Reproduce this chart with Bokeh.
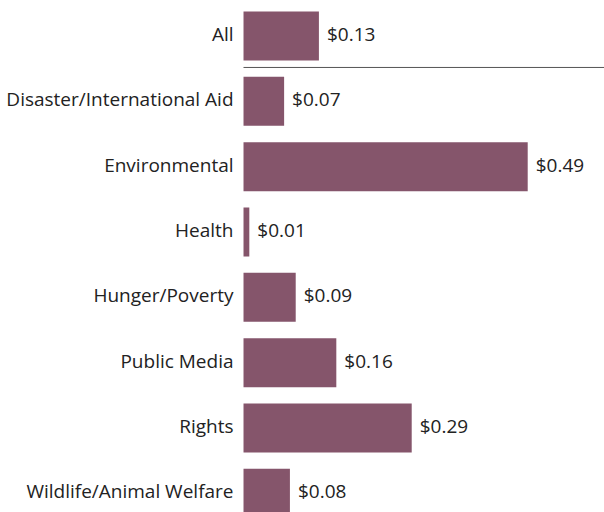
from bokeh.plotting import figure
from bokeh.models import ColumnDataSource, Range1d
from bokeh.core.properties import value
from bokeh.embed import file_html
from bokeh.resources import INLINE

categories = ["All", "Disaster/International Aid", "Environmental", "Health",
              "Hunger/Poverty", "Public Media", "Rights", "Wildlife/Animal Welfare"]
values = [0.13, 0.07, 0.49, 0.01, 0.09, 0.16, 0.29, 0.08]
value_labels = ["$0.13", "$0.07", "$0.49", "$0.01", "$0.09", "$0.16", "$0.29", "$0.08"]

n = len(categories)
ypos = [n - 1 - i for i in range(n)]

src = ColumnDataSource(dict(cat=categories, val=values, lab=value_labels, y=ypos,
                            zero=[0] * n))

x_start, x_end = -0.419, 0.6224
y_end = (n - 1) + 0.543
y_start = y_end - 7.837

p = figure(width=604, height=512, output_backend="svg", toolbar_location=None,
           x_range=Range1d(x_start, x_end), y_range=Range1d(y_start, y_end),
           min_border=0, outline_line_color=None)
p.xaxis.visible = False
p.yaxis.visible = False
p.xgrid.visible = False
p.ygrid.visible = False

p.hbar(y="y", right="val", left="zero", height=0.75, source=src,
       fill_color="#85556b", line_color=None)

font = value("Open Sans")
p.text(x="zero", y="y", text="cat", source=src, text_align="right",
       text_baseline="middle", x_offset=-10, y_offset=-2, text_font=font,
       text_font_size="19px", text_color="#222222")
p.text(x="val", y="y", text="lab", source=src, text_align="left",
       text_baseline="middle", x_offset=8, y_offset=-2, text_font=font,
       text_font_size="19px", text_color="#222222")

# separator between "All" and the rest
sep_y = (n - 1) - 0.482
p.segment(x0=[0], x1=[x_end], y0=[sep_y], y1=[sep_y], line_color="#555555",
          line_width=1)

open("out.html", "w").write(file_html(p, INLINE))
